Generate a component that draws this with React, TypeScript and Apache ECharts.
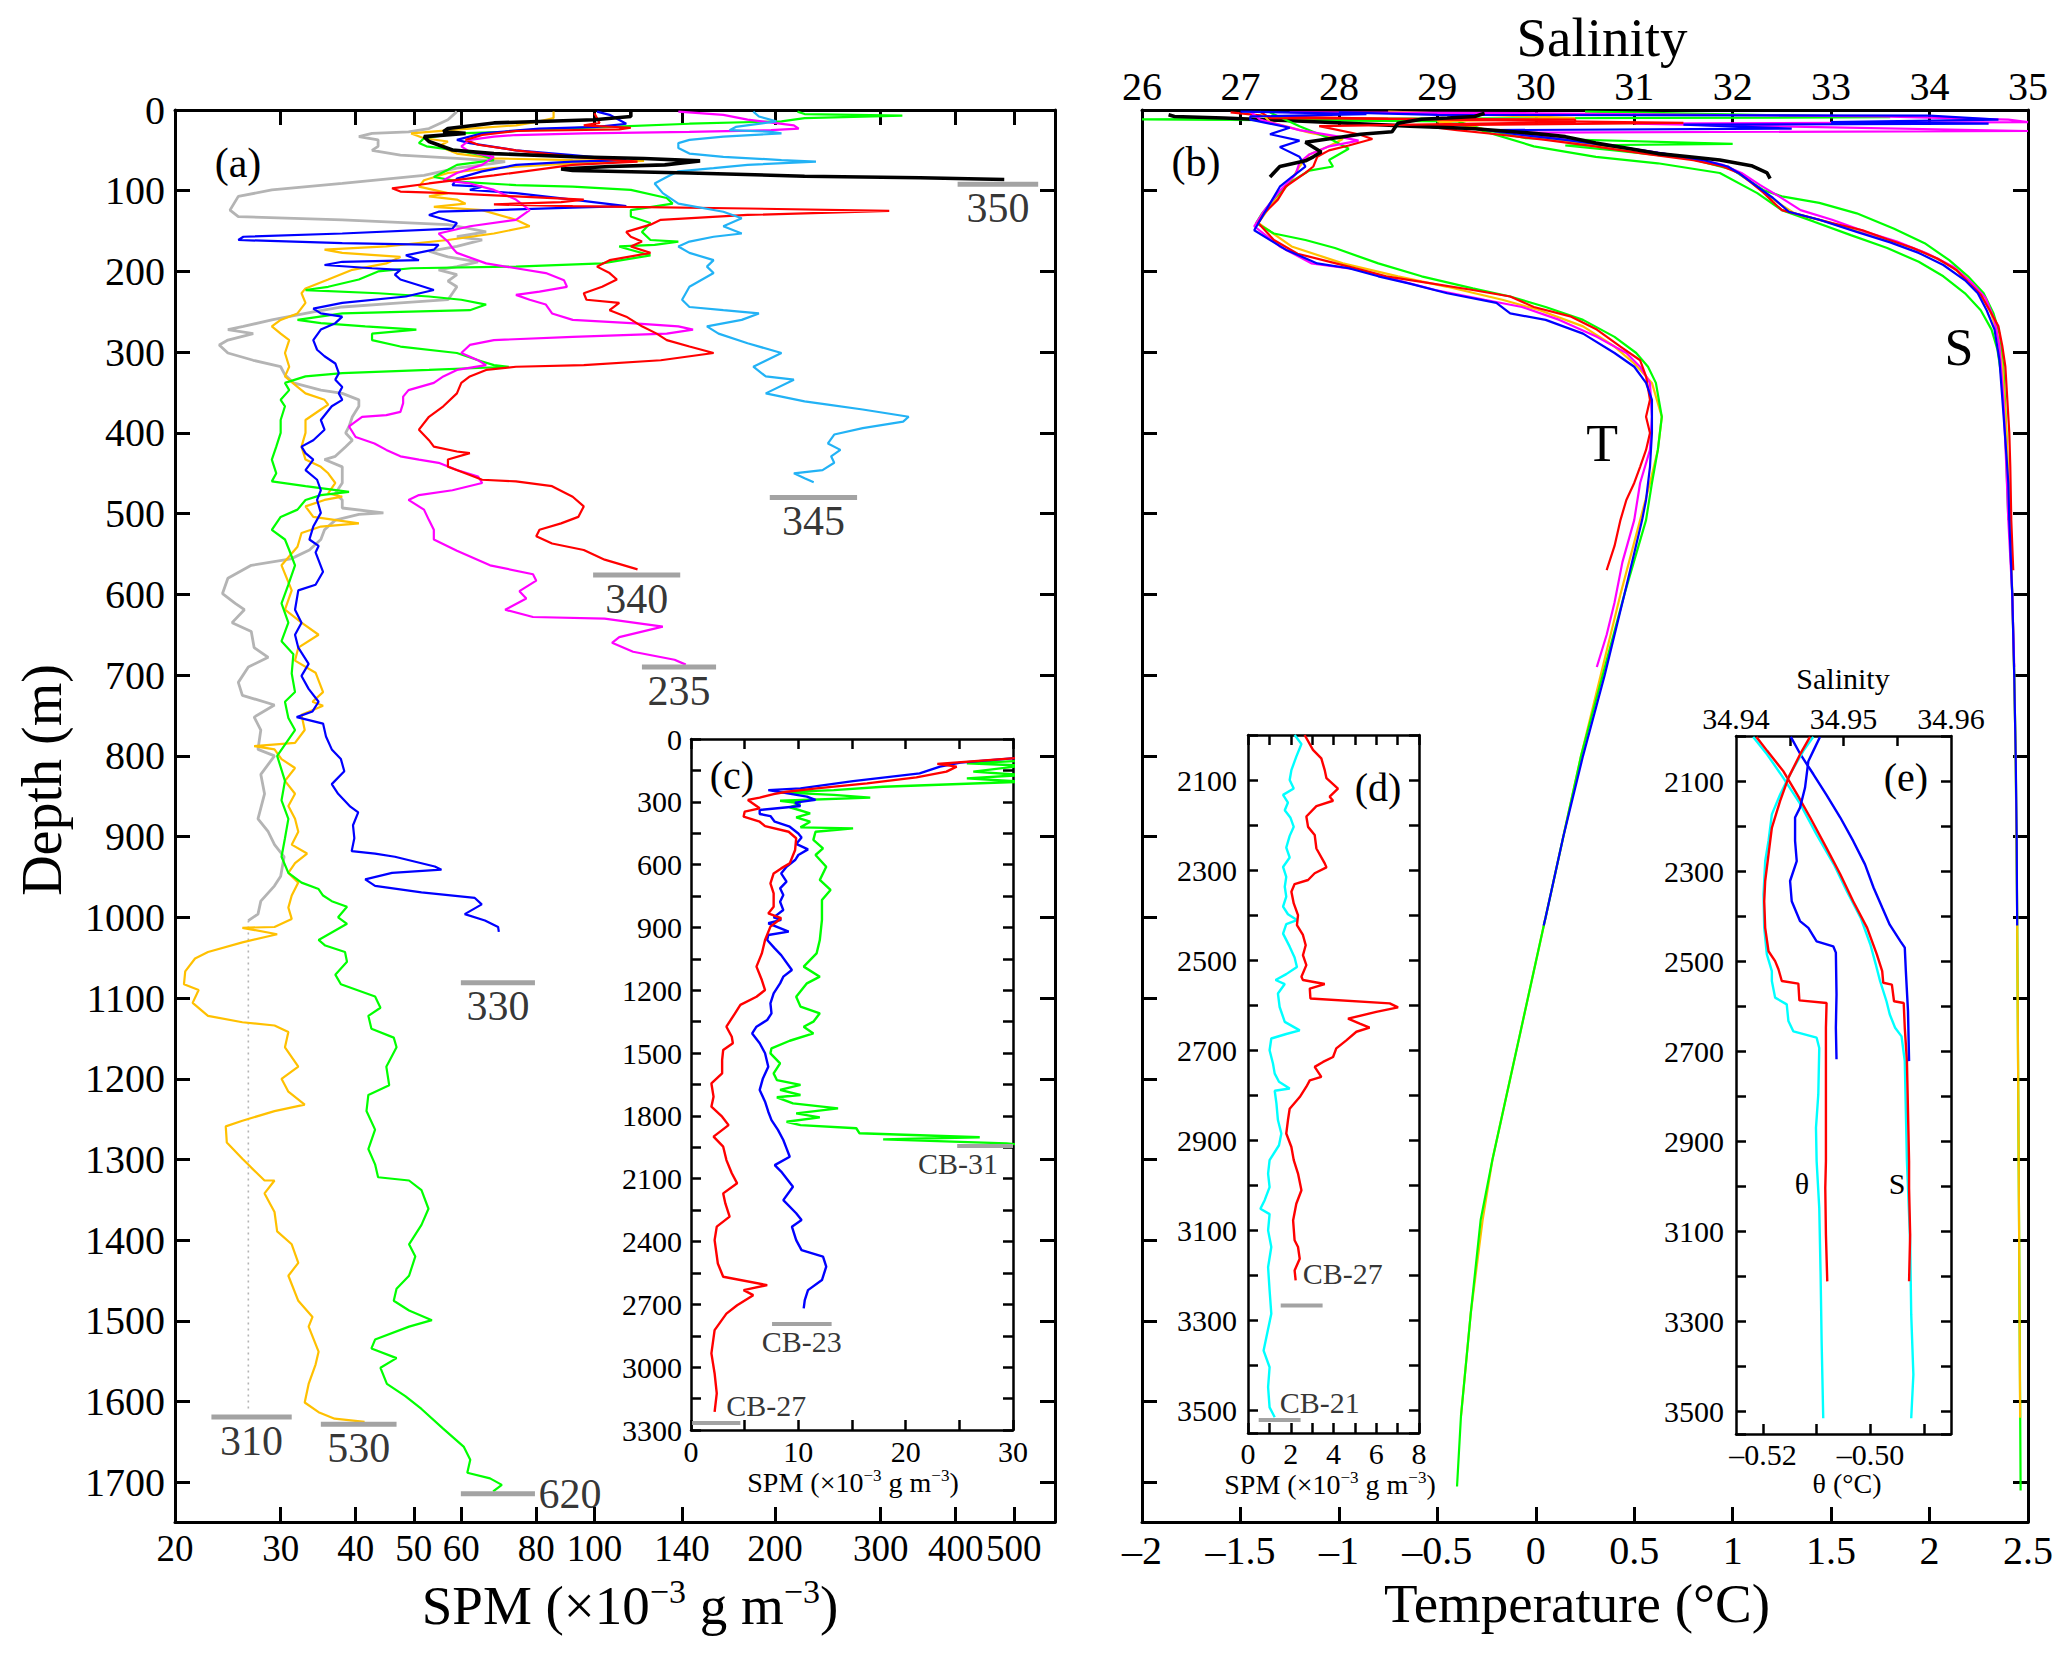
import React, { useEffect, useRef } from 'react';
import * as echarts from 'echarts';

const FONT = '"Liberation Serif", "Times New Roman", Times, serif';

// ---------- (a) SPM profiles: [SPM (x10^-3 g m^-3), depth (m)] ----------
const spmTicks = [20, 30, 40, 50, 60, 80, 100, 140, 200, 300, 400, 500];

const spm350 = [[115, 2], [115, 8], [100, 12], [68, 16], [57, 23], [56, 27], [61, 29], [52, 33], [53, 39], [58, 49.5], [68, 54], [92, 58], [121, 60], [150, 63], [131, 68], [106, 70], [88, 73], [92, 75], [144, 78], [224, 82], [349, 84], [482, 86]];

const spm345 = [[184, 2], [188, 8], [201, 14], [172, 21], [168, 25], [197, 27], [205, 29], [164, 33], [144, 37], [138, 41], [138, 47], [144, 54], [164, 58], [205, 62], [234, 64], [180, 68], [158, 72], [138, 76], [132, 83], [126, 91], [130, 103], [138, 116], [164, 126], [176, 134], [164, 144], [176, 153], [158, 157], [144, 163], [138, 169], [144, 177], [158, 186], [154, 194], [158, 202], [144, 219], [140, 235], [144, 244], [164, 248], [188, 252], [176, 260], [154, 268], [161, 277], [180, 289], [205, 301], [184, 318], [193, 330], [215, 334], [193, 351], [205, 355], [224, 361], [245, 365], [280, 371], [334, 380], [327, 386], [280, 394], [251, 402], [245, 413], [257, 421], [248, 429], [251, 437], [240, 446], [215, 450], [224, 456], [232, 461]];

const spm340 = [[100, 4], [102, 16], [96, 19], [115, 22], [110, 24], [74, 26], [65, 31], [61, 37], [64, 43], [74, 50], [92, 58], [110, 62], [118, 64], [92, 68], [68, 81], [53, 91], [46, 97], [47.5, 101], [57, 103], [74, 107], [96, 111], [88, 114], [68, 117], [92, 119], [113, 120], [180, 122], [310, 125], [180, 130], [129, 136], [124, 142], [113, 151], [115, 157], [120, 163], [115, 169], [124, 177], [106, 186], [101, 194], [106, 202], [109, 210], [103, 219], [96, 227], [97, 235], [110, 239], [106, 248], [113, 256], [120, 268], [127, 277], [132, 285], [144, 293], [158, 301], [129, 310], [96, 316], [74, 318], [66, 322], [62, 330], [60, 338], [59, 351], [56, 367], [53, 380], [51, 396], [53, 409], [54, 417], [59, 423], [62, 425], [57, 433], [57, 442], [62, 452], [65, 458], [74, 460], [85, 466], [92, 479], [96, 491], [94, 504], [88, 512], [81, 520], [80, 528], [85, 537], [96, 545], [104, 557], [118, 569]];

const spm235 = [[138, 2], [164, 6], [180, 12], [215, 19], [219, 23], [197, 25], [144, 27], [96, 29], [74, 31], [68, 33], [62, 37], [60, 45], [62, 52], [68, 58], [65, 68], [59, 78], [56, 87], [62, 91], [68, 99], [74, 111], [78, 124], [74, 136], [62, 144], [55, 153], [57, 163], [58, 171], [59, 177], [66, 190], [74, 196], [83, 202], [89, 211], [90, 219], [81, 225], [74, 229], [78, 235], [83, 241], [85, 252], [92, 260], [115, 264], [138, 268], [146, 272], [132, 277], [92, 281], [68, 285], [62, 291], [60, 301], [64, 310], [66, 316], [59, 322], [56, 330], [54, 338], [49, 347], [48, 355], [48, 363], [47.5, 374], [45, 378], [41, 380], [39, 392], [40, 405], [43, 413], [45, 421], [47.5, 429], [51, 433], [55, 437], [59, 446], [64, 454], [65, 462], [58, 471], [51, 477], [49, 483], [52, 495], [53, 508], [54, 520], [54, 532], [59, 546], [67, 564], [79, 575], [80, 583], [75, 596], [77, 605], [71, 619], [79, 628], [104, 630], [130, 640], [110, 653], [107, 660], [116, 671], [136, 681], [142, 687]];

const spm330 = [[101, 2], [106, 6], [113, 17], [101, 21], [81, 23], [65, 29], [59, 37], [62, 41], [74, 50], [92, 56], [113, 62], [92, 64], [74, 68], [65, 76], [59, 85], [58, 93], [65, 95], [62, 99], [74, 103], [92, 111], [113, 119], [92, 121], [68, 124], [55, 126], [53, 130], [59, 140], [58, 147], [38, 153], [26, 157], [25.5, 161], [38, 165], [55, 167], [54, 173], [48.5, 180], [51, 186], [38, 188], [35.5, 192], [42.6, 196], [47.5, 198], [46.5, 204], [47.5, 210], [51, 217], [54, 223], [48.5, 231], [38, 239], [34, 246], [35, 252], [38, 256], [37, 264], [35, 272], [34, 285], [34.5, 297], [35.5, 305], [37, 314], [37.5, 326], [37, 334], [38, 343], [37.5, 351], [38, 359], [36.5, 367], [35, 384], [35.5, 396], [34, 409], [32.5, 417], [33, 425], [34, 433], [33, 446], [34.5, 458], [35, 471], [34.5, 483], [35, 499], [34, 516], [33.5, 532], [34.7, 540], [34.3, 548], [35.3, 572], [34.3, 588], [32.1, 595], [31.7, 619], [32.5, 635], [31.7, 650], [32.1, 666], [33.4, 686], [32.5, 701], [33.4, 717], [34.7, 733], [33.9, 745], [31.9, 752], [35.3, 760], [35.7, 776], [36.5, 792], [37.8, 804], [38.3, 819], [36.5, 835], [37.4, 847], [39.2, 863], [40.4, 870], [39.6, 886], [39.8, 902], [39.4, 918], [43.1, 921], [46.5, 925], [54.2, 937], [55.6, 941], [46, 945], [41.5, 953], [43.1, 961], [51.5, 969], [63.2, 976], [64.9, 984], [60.8, 996], [65.7, 1004], [69.1, 1012], [69.3, 1018]];

const spm310 = [[59, 2], [57, 12], [53, 23], [49, 27], [42.6, 29], [40.5, 33], [43.6, 37], [43.6, 45], [42.6, 50], [47.5, 56], [59, 60], [71, 64], [68, 66], [59, 72], [52, 81], [38, 91], [29, 99], [25.5, 107], [24.7, 124], [25.5, 132], [38, 136], [57, 142], [62, 147], [66, 151], [59, 157], [65, 161], [59, 169], [53, 175], [57, 182], [64, 188], [59, 194], [55, 198], [59, 204], [57, 212], [59, 219], [58, 227], [57, 235], [47.5, 239], [38, 244], [34, 250], [29, 260], [26, 268], [24.5, 272], [27, 277], [24.5, 285], [23.7, 291], [24.5, 301], [27, 310], [30, 318], [30.5, 328], [31.5, 338], [35, 347], [38, 351], [40.5, 359], [40.5, 367], [39.5, 380], [39, 392], [38.5, 400], [39.5, 409], [38.5, 417], [37, 429], [35.5, 433], [38, 442], [38, 462], [37, 475], [38, 483], [38, 493], [44.5, 499], [40.5, 501], [37, 508], [35.5, 520], [35, 532], [33.5, 545], [31.2, 556], [26.8, 564], [24.5, 580], [24, 599], [25.2, 611], [26.1, 619], [24.9, 635], [26.8, 646], [27.1, 666], [28.6, 678], [26.5, 690], [25.5, 709], [25.9, 725], [29.3, 737], [27.1, 752], [27.8, 768], [27.5, 792], [29.3, 800], [27.8, 823], [28.2, 847], [27.5, 878], [28.6, 894], [29.3, 910], [30.4, 925], [30, 949], [29.3, 961], [27.8, 980], [27.5, 996], [26.5, 1004]];
// gap in the 310 profile, drawn dotted
const spm310Gap = [[26.5, 1004], [26.5, 1613]];

const spm530 = [[85.5, 2], [85.5, 10], [81, 14], [74, 19], [62, 23], [53, 27], [49.5, 29], [52, 35], [57, 39], [55, 45], [59, 54], [68, 60], [92, 62], [121, 63], [92, 66], [68, 72], [57, 78], [52, 87], [51, 95], [57, 103], [53, 107], [59, 111], [61, 116], [54, 120], [65, 124], [74, 136], [78, 144], [68, 153], [57, 161], [45, 169], [35.5, 173], [38, 177], [47.5, 182], [45, 190], [39.5, 198], [36, 210], [33, 221], [32.5, 227], [33, 239], [32, 252], [30, 260], [29, 268], [30, 277], [31, 285], [30.5, 301], [31, 318], [30.5, 330], [32, 343], [33, 351], [35.5, 359], [36, 365], [35, 371], [33, 384], [33, 400], [32.5, 417], [33, 433], [35, 442], [36, 450], [37, 462], [36, 475], [38, 479], [35.5, 483], [33, 491], [34, 504], [40.5, 512], [35, 516], [32.5, 524], [32, 541], [30.1, 564], [31.3, 595], [30.5, 619], [32.5, 635], [34.7, 650], [32.1, 666], [31.7, 682], [34.3, 697], [35.3, 721], [33.9, 733], [35.3, 738], [32.5, 749], [32.9, 768], [31.7, 784], [27.1, 788], [29.3, 792], [30.1, 804], [31.7, 815], [30.5, 831], [31.7, 847], [30.9, 862], [31.7, 878], [32.1, 894], [31.3, 910], [33.2, 921], [31.7, 933], [30.9, 945], [32.1, 957], [31.3, 973], [30.9, 988], [31.3, 1002], [29.3, 1012], [25.9, 1013], [29.6, 1021], [25.9, 1031], [22.7, 1043], [21.6, 1051], [20.8, 1067], [20.7, 1083], [21.9, 1090], [21.4, 1106], [22.7, 1122], [25.9, 1130], [29.3, 1134], [30.9, 1142], [30.5, 1161], [32.1, 1185], [30.1, 1200], [30.9, 1216], [32.9, 1232], [29.3, 1240], [25.9, 1252], [24.3, 1259], [24.4, 1279], [25.9, 1299], [26.8, 1310], [28.2, 1326], [29.3, 1326], [28.2, 1342], [29.3, 1365], [29.6, 1389], [31.3, 1405], [32.1, 1428], [30.9, 1444], [32.1, 1475], [33.9, 1495], [33.4, 1507], [34.7, 1538], [34.3, 1554], [33.4, 1578], [32.9, 1601], [34.7, 1613], [36.9, 1621], [41.4, 1625]];

const spm620 = [[218, 2], [224, 5], [326, 7], [224, 10], [205, 14], [144, 17], [106, 21], [81, 24], [71, 27], [59, 29], [52, 35], [51, 41], [52.5, 45], [59, 50], [65, 56], [68, 62], [59, 68], [57, 74], [54, 83], [60, 89], [74, 93], [92, 95], [115, 99], [132, 109], [135, 116], [115, 124], [115, 132], [124, 140], [120, 151], [124, 161], [138, 163], [126, 167], [110, 169], [112, 171], [124, 180], [115, 184], [103, 190], [74, 194], [49.5, 196], [43.6, 200], [40.5, 210], [36, 219], [33, 223], [43.6, 227], [53, 231], [60, 235], [66, 241], [62, 248], [47.5, 250], [38, 252], [32, 260], [35, 264], [41.5, 268], [50.5, 272], [42.6, 277], [42.6, 285], [47.5, 293], [59, 301], [64, 310], [68, 316], [72, 318], [53, 322], [38, 326], [33, 330], [30.5, 338], [31, 347], [30, 359], [30.5, 367], [30, 384], [30, 400], [29.5, 417], [29, 433], [29.5, 450], [29, 460], [33, 466], [39, 473], [35, 477], [33, 483], [32, 495], [30, 504], [29, 520], [30.5, 532], [31, 545], [31.7, 564], [30.9, 588], [30.1, 611], [30.9, 635], [30.1, 658], [31.5, 674], [31.3, 698], [31.7, 721], [30.5, 733], [30.9, 753], [31.7, 768], [29.6, 800], [30.5, 831], [30.1, 855], [30.9, 878], [30.5, 902], [30.1, 925], [30.9, 945], [32.5, 957], [34.7, 965], [35.3, 973], [36.5, 980], [38.7, 987], [37.4, 1000], [38.7, 1008], [34.7, 1028], [35.6, 1035], [38.4, 1043], [38.7, 1055], [37, 1071], [37.8, 1083], [43.1, 1098], [44, 1112], [42, 1122], [42.5, 1138], [46.3, 1149], [46.8, 1161], [45, 1185], [45.5, 1208], [42, 1220], [41.7, 1240], [43.1, 1263], [42, 1287], [43.1, 1306], [43.6, 1322], [49.1, 1326], [51.5, 1338], [52.9, 1361], [51.5, 1381], [49.1, 1405], [50.3, 1420], [49.1, 1444], [46.8, 1460], [46.3, 1475], [49.1, 1487], [53.6, 1499], [49.1, 1507], [43.1, 1523], [42.5, 1534], [46.8, 1546], [44, 1558], [45.1, 1578], [48.4, 1593], [51.5, 1609], [55.9, 1633], [60.6, 1656], [62.1, 1672], [61.4, 1688], [67, 1695], [70.1, 1703], [67.8, 1711]];

// bottom depth marks: station, SPM range, depth
const bottomsA = [
  { name: '350', x0: 403, x1: 549, depth: 92 },
  { name: '345', x0: 196, x1: 274, depth: 480 },
  { name: '340', x0: 99.5, x1: 139, depth: 576 },
  { name: '235', x0: 120, x1: 159.5, depth: 690 },
  { name: '330', x0: 59.9, x1: 79.6, depth: 1081 },
  { name: '310', x0: 23.0, x1: 31.3, depth: 1619 },
  { name: '530', x0: 35.0, x1: 46.8, depth: 1628 },
  { name: '620', x0: 59.9, x1: 79.6, depth: 1714 },
];

// ---------- (b) temperature [T (°C), depth] and salinity [S, depth] ----------
const tRed = [[-1.4, 2], [-1.35, 10], [0.2, 12], [0.2, 15], [-1.1, 20], [-0.9, 30], [-0.83, 36], [-0.95, 44], [-1.05, 50], [-1.11, 58], [-1.13, 70], [-1.17, 78], [-1.27, 95], [-1.31, 111], [-1.38, 128], [-1.41, 140], [-1.33, 161], [-1.21, 178], [-0.95, 194], [-0.76, 206], [-0.58, 213], [-0.32, 223], [-0.13, 231], [-0.01, 244], [0.18, 256], [0.31, 272], [0.43, 293], [0.53, 310], [0.56, 330], [0.58, 359], [0.56, 380], [0.58, 400], [0.56, 421], [0.53, 442], [0.5, 462], [0.46, 483], [0.43, 508], [0.4, 540], [0.36, 570]];
const tBlue = [[-1.5, 2], [-0.86, 5], [-1.45, 8], [-1.45, 12], [-1.25, 22], [-1.35, 30], [-1.2, 38], [-1.3, 46], [-1.2, 58], [-1.17, 70], [-1.24, 83], [-1.3, 95], [-1.36, 120], [-1.43, 149], [-1.27, 173], [-1.11, 190], [-0.95, 196], [-0.8, 206], [-0.64, 215], [-0.45, 227], [-0.2, 239], [-0.13, 252], [0.05, 260], [0.24, 277], [0.4, 301], [0.5, 318], [0.56, 338], [0.59, 359], [0.59, 400], [0.58, 442], [0.56, 483], [0.54, 508], [0.45, 600], [0.35, 700], [0.24, 800], [0.14, 900], [0.05, 1000], [0.04, 1010]];
const tMagenta = [[-1.45, 2], [-1.4, 12], [-1.2, 25], [-1.0, 33], [-0.9, 38], [-1.05, 45], [-1.15, 55], [-1.2, 65], [-1.22, 80], [-1.3, 100], [-1.38, 125], [-1.43, 144], [-1.3, 169], [-1.14, 190], [-0.89, 198], [-0.7, 211], [-0.51, 223], [-0.26, 235], [-0.07, 244], [0.12, 260], [0.31, 281], [0.46, 301], [0.53, 318], [0.58, 338], [0.59, 380], [0.58, 421], [0.53, 462], [0.5, 508], [0.44, 560], [0.4, 610], [0.36, 650], [0.31, 690]];
const tGold = [[-1.4, 2], [-1.35, 15], [-1.15, 28], [-0.98, 36], [-1.05, 45], [-1.15, 55], [-1.2, 70], [-1.25, 90], [-1.35, 120], [-1.41, 140], [-1.24, 169], [-0.98, 190], [-0.7, 206], [-0.45, 219], [-0.17, 235], [0.02, 248], [0.24, 268], [0.4, 293], [0.5, 314], [0.59, 338], [0.64, 380], [0.62, 421], [0.58, 462], [0.53, 508], [0.43, 600], [0.33, 700], [0.23, 800], [0.14, 900], [0.05, 1000], [-0.04, 1100], [-0.13, 1200], [-0.22, 1300], [-0.27, 1375], [-0.33, 1490], [-0.38, 1618]];
const tGreen = [[-1.35, 3], [-1.2, 20], [-1.05, 35], [-0.95, 48], [-1.05, 62], [-1.03, 70], [-1.15, 75], [-1.25, 90], [-1.33, 110], [-1.39, 128], [-1.42, 140], [-1.33, 153], [-1.17, 161], [-1.02, 171], [-0.8, 190], [-0.58, 206], [-0.32, 221], [-0.13, 231], [0.05, 244], [0.24, 260], [0.4, 281], [0.51, 301], [0.57, 318], [0.61, 338], [0.64, 380], [0.62, 421], [0.59, 462], [0.56, 508], [0.45, 600], [0.34, 700], [0.23, 800], [0.14, 900], [0.05, 1000], [-0.04, 1100], [-0.13, 1200], [-0.22, 1300], [-0.28, 1375], [-0.33, 1490], [-0.38, 1618], [-0.4, 1705]];
const tBlack = [[-0.26, 4], [-0.31, 8], [-0.45, 10], [-0.58, 11.5], [-0.7, 16.5], [-0.73, 27], [-0.89, 30], [-1.17, 40], [-1.09, 52], [-1.13, 58], [-1.17, 63], [-1.3, 70], [-1.35, 83]];

const sRed = [[26.9, 3], [27.3, 8], [28.5, 11], [31.5, 16], [28.8, 19], [29.2, 25], [29.6, 30], [30.1, 37], [30.6, 45], [31.1, 54], [31.6, 62], [31.9, 70], [32.06, 78], [32.19, 90], [32.31, 102], [32.41, 114], [32.5, 124], [32.69, 130], [33.01, 140], [33.32, 149], [33.57, 160], [33.83, 171], [34.08, 184], [34.27, 198], [34.39, 213], [34.52, 229], [34.61, 248], [34.7, 268], [34.74, 293], [34.77, 318], [34.79, 359], [34.81, 400], [34.82, 442], [34.83, 508], [34.85, 570]];
const sBlue = [[28.0, 3], [29.0, 6], [34.0, 7], [34.7, 12], [33.0, 15], [34.6, 17], [31.5, 18], [32.6, 23], [29.5, 25], [29.8, 30], [30.3, 37], [30.8, 45], [31.3, 54], [31.7, 62], [31.95, 70], [32.06, 78], [32.25, 95], [32.41, 109], [32.57, 126], [32.88, 136], [33.26, 151], [33.6, 164], [33.89, 177], [34.14, 192], [34.36, 211], [34.49, 227], [34.58, 248], [34.66, 272], [34.71, 310], [34.74, 359], [34.77, 409], [34.8, 462], [34.81, 508], [34.84, 600], [34.86, 700], [34.875, 800], [34.885, 900], [34.89, 1010]];
const sMagenta = [[27.5, 3], [30.0, 4], [33.5, 8], [34.8, 12], [35.0, 15], [31.0, 17], [35.0, 26], [29.8, 28], [30.2, 35], [30.7, 43], [31.2, 52], [31.6, 60], [31.9, 68], [32.09, 78], [32.28, 93], [32.47, 107], [32.69, 124], [33.01, 136], [33.35, 151], [33.67, 163], [33.98, 178], [34.24, 194], [34.42, 213], [34.57, 233], [34.66, 260], [34.71, 293], [34.75, 359], [34.78, 442], [34.8, 508], [34.84, 600], [34.86, 690]];
const sGold = [[28.5, 2], [29.5, 6], [30.4, 10], [29.0, 14], [29.4, 22], [29.8, 30], [30.3, 38], [30.8, 46], [31.3, 55], [31.7, 63], [31.95, 70], [32.06, 78], [32.24, 95], [32.41, 111], [32.63, 128], [32.94, 138], [33.29, 151], [33.64, 163], [33.92, 175], [34.17, 190], [34.38, 208], [34.52, 227], [34.62, 250], [34.69, 277], [34.74, 318], [34.78, 400], [34.82, 508], [34.84, 600], [34.86, 700], [34.875, 800], [34.89, 1000], [34.9, 1200], [34.91, 1400], [34.92, 1620]];
const sGreen = [[30.5, 2], [33.6, 9], [26.0, 11.5], [29.2, 14], [29.5, 25], [29.9, 35], [32.0, 42], [30.3, 44], [30.8, 50], [31.56, 60], [32.0, 74], [32.31, 99], [32.5, 107], [32.88, 115], [33.26, 128], [33.64, 147], [33.95, 165], [34.2, 186], [34.39, 206], [34.55, 227], [34.65, 252], [34.71, 277], [34.75, 318], [34.78, 400], [34.81, 508], [34.84, 600], [34.86, 700], [34.875, 800], [34.89, 1000], [34.9, 1200], [34.91, 1400], [34.92, 1600], [34.925, 1710]];
const sGreen2 = [[29.3, 20], [29.98, 45], [30.61, 58], [31.24, 66], [31.87, 78], [32.25, 103], [32.5, 124], [32.82, 138], [33.2, 155], [33.57, 171], [33.89, 188], [34.14, 206], [34.36, 227], [34.52, 248], [34.63, 272], [34.69, 297], [34.74, 338], [34.77, 400], [34.8, 508]];
const sBlack = [[26.27, 6], [26.33, 8], [26.83, 10], [27.46, 13], [28.09, 16.5], [28.72, 20], [29.35, 23], [29.98, 29], [30.3, 33], [30.61, 41], [30.93, 47.5], [31.24, 54], [31.56, 58], [31.87, 62], [32.19, 69], [32.35, 78], [32.38, 85]];

// ---------- (c) deep SPM [SPM, depth] ----------
const cb27 = [[31, 88], [22.95, 119], [24.75, 132], [23.8, 156], [21, 183], [16.4, 212], [11.7, 236], [8.9, 252], [7.7, 263], [6.4, 280], [5.3, 291], [6.4, 331], [5, 347], [4.9, 371], [6.4, 395], [6.9, 416], [9.1, 443], [9.8, 474], [9.7, 530], [9.2, 594], [8.4, 618], [7.7, 642], [7.4, 689], [7.7, 737], [7.7, 801], [7.2, 833], [8.4, 856], [7.4, 896], [6.9, 960], [6.6, 1024], [6.1, 1087], [6.6, 1151], [6.9, 1199], [6.1, 1231], [4.6, 1270], [4.1, 1310], [3.3, 1374], [3.8, 1422], [3.9, 1453], [3, 1485], [2.9, 1533], [2.9, 1597], [1.9, 1645], [2.1, 1708], [1.9, 1756], [2.9, 1804], [3.5, 1844], [2.1, 1899], [3, 1947], [3.3, 2011], [3.8, 2074], [4.3, 2122], [3, 2170], [3.2, 2218], [3.6, 2281], [2.4, 2329], [2.2, 2393], [2.5, 2505], [3, 2568], [7.1, 2608], [4.9, 2632], [5.8, 2656], [4.3, 2704], [3.3, 2744], [2.2, 2823], [1.9, 2934], [2.2, 3030], [2.4, 3125], [2.2, 3213]];
const cb23 = [[31, 88], [25.1, 113], [23.2, 132], [21.3, 164], [15.1, 201], [10.2, 236], [7.2, 244], [10.8, 275], [11.6, 291], [9.7, 304], [10.2, 320], [6.4, 339], [6.4, 358], [7.4, 368], [7.8, 395], [9.2, 419], [10, 451], [10.3, 470], [9.8, 501], [10.9, 527], [10, 554], [9.7, 578], [8.9, 610], [8.4, 642], [8.9, 681], [8.3, 713], [8.6, 745], [8.3, 777], [8.6, 817], [7.7, 852], [8.4, 864], [7.2, 880], [9.1, 920], [7.2, 936], [7.1, 960], [7.8, 1000], [8.4, 1032], [9.4, 1103], [8.6, 1135], [8.3, 1167], [7.7, 1215], [7.4, 1262], [7.5, 1310], [7.1, 1342], [6.1, 1374], [5.7, 1406], [6.4, 1453], [6.9, 1501], [7.2, 1565], [6.7, 1621], [6.4, 1676], [6.9, 1732], [7.2, 1780], [7.5, 1820], [8.1, 1867], [8.6, 1915], [8.9, 1955], [9.2, 1995], [7.8, 2035], [8.4, 2066], [9.5, 2138], [8.6, 2202], [9.8, 2265], [10.3, 2297], [9.4, 2329], [9.8, 2393], [10.3, 2441], [12.3, 2472], [12.6, 2520], [12.2, 2584], [10.9, 2632], [10.6, 2680], [10.5, 2719]];
const cb31 = [[31, 104], [25.7, 116], [31, 127], [26.3, 156], [31, 172], [25.7, 188], [31, 204], [17.9, 228], [13.3, 244], [8.3, 255], [13.3, 267], [16.7, 280], [8.3, 295], [10.2, 307], [9.2, 326], [11.1, 355], [9.8, 374], [11.1, 395], [10.2, 422], [15.1, 427], [11.6, 443], [11.4, 482], [12.3, 522], [11.6, 554], [12.6, 610], [12, 673], [13, 721], [12.2, 769], [12.2, 864], [12, 960], [11.7, 1024], [10.5, 1087], [12, 1135], [10.8, 1167], [9.8, 1231], [10.2, 1278], [12, 1310], [11.4, 1350], [10.5, 1374], [11.4, 1406], [9.2, 1441], [7.5, 1477], [7.4, 1501], [8.3, 1549], [7.7, 1597], [8, 1629], [10.2, 1652], [8.3, 1676], [10.2, 1700], [8, 1711], [9.5, 1740], [13.7, 1764], [9.8, 1788], [12, 1807], [8.9, 1828], [10.2, 1844], [15.4, 1859], [15.7, 1883], [26.9, 1902], [17.9, 1912], [29.4, 1931], [31, 1939]];
const bottomsC = [
  { name: 'CB-31', x0: 24.8, x1: 30, depth: 1944 },
  { name: 'CB-23', x0: 7.55, x1: 13.1, depth: 2794 },
  { name: 'CB-27', x0: 0.1, x1: 4.6, depth: 3267 },
];

// ---------- (d) near-bottom SPM [SPM, depth] ----------
const dCb27 = [[2.65, 2000], [3.04, 2033], [3.43, 2052], [3.59, 2078], [3.67, 2096], [4.21, 2119], [3.82, 2137], [3.98, 2146], [3.2, 2158], [2.73, 2181], [2.81, 2204], [3.12, 2222], [3.2, 2252], [3.59, 2285], [3.67, 2294], [3.12, 2307], [2.81, 2322], [2.18, 2331], [2.03, 2348], [2.14, 2374], [2.34, 2400], [2.29, 2422], [2.57, 2444], [2.7, 2467], [2.57, 2489], [2.73, 2511], [2.5, 2537], [2.57, 2544], [3.59, 2553], [2.89, 2563], [2.92, 2585], [6.63, 2596], [7.02, 2605], [6, 2615], [4.68, 2630], [5.23, 2641], [5.69, 2650], [5.07, 2659], [4.6, 2678], [4.13, 2696], [3.98, 2715], [3.51, 2726], [3.12, 2737], [3.43, 2759], [2.89, 2767], [2.73, 2781], [2.42, 2804], [1.95, 2830], [1.87, 2855], [1.79, 2885], [2.03, 2915], [2.14, 2944], [2.34, 2974], [2.5, 3011], [2.26, 3041], [2.11, 3078], [2.18, 3122], [2.34, 3137], [2.42, 3163], [2.18, 3189], [2.23, 3211]];
const dCb21 = [[2.18, 2000], [2.5, 2020], [2.26, 2048], [2.03, 2078], [1.95, 2100], [2.14, 2119], [1.64, 2133], [1.87, 2150], [1.72, 2167], [1.98, 2183], [2.14, 2204], [1.95, 2224], [1.79, 2250], [1.95, 2272], [1.64, 2293], [1.79, 2315], [1.72, 2337], [1.79, 2359], [1.64, 2381], [1.87, 2398], [2.29, 2411], [1.79, 2420], [1.64, 2441], [1.95, 2470], [2.18, 2494], [2.29, 2515], [1.79, 2531], [1.29, 2544], [1.72, 2553], [1.4, 2574], [1.48, 2604], [1.72, 2637], [2.42, 2656], [1.79, 2664], [1.09, 2674], [1.01, 2700], [1.17, 2730], [1.25, 2752], [1.45, 2770], [1.95, 2785], [1.25, 2790], [1.33, 2818], [1.4, 2855], [1.56, 2885], [1.45, 2911], [1.01, 2944], [0.94, 2974], [1.01, 3004], [0.78, 3033], [0.58, 3052], [1.01, 3064], [0.94, 3100], [1.09, 3137], [0.94, 3182], [1.01, 3233], [1.09, 3285], [0.73, 3367], [1.01, 3404], [0.94, 3448], [1.01, 3493], [1.25, 3515]];
const bottomsD = [
  { name: 'CB-27', x0: 1.53, x1: 3.49, depth: 3267 },
  { name: 'CB-21', x0: 0.5, x1: 2.46, depth: 3521 },
];

// ---------- (e) deep θ [θ (°C), depth] and S [S, depth] ----------
const eSRed = [[34.9419, 2002], [34.9429, 2033], [34.9444, 2078], [34.9457, 2130], [34.9469, 2181], [34.9484, 2248], [34.9497, 2307], [34.9509, 2367], [34.9522, 2426], [34.9531, 2485], [34.9536, 2522], [34.9537, 2548], [34.9545, 2552], [34.9547, 2589], [34.9556, 2593], [34.9557, 2648], [34.9559, 2722], [34.9561, 2944], [34.9561, 3004], [34.9562, 3107], [34.9561, 3211]];
const eSCyan = [[34.9416, 2002], [34.9429, 2041], [34.9444, 2093], [34.946, 2152], [34.9475, 2219], [34.9491, 2285], [34.9503, 2344], [34.9516, 2404], [34.9525, 2463], [34.953, 2507], [34.9534, 2544], [34.954, 2589], [34.9543, 2618], [34.9548, 2648], [34.9554, 2667], [34.9557, 2722], [34.9559, 2944], [34.9562, 3122], [34.9563, 3285], [34.9565, 3418], [34.9563, 3515]];
const eSBlue = [[34.9451, 2002], [34.946, 2041], [34.9472, 2085], [34.9484, 2130], [34.9497, 2181], [34.9509, 2233], [34.952, 2285], [34.9528, 2337], [34.9536, 2381], [34.9543, 2419], [34.9553, 2456], [34.9557, 2470], [34.9558, 2522], [34.956, 2611], [34.9561, 2722]];
const eTRed = [[-0.51123, 2002], [-0.51309, 2041], [-0.51525, 2093], [-0.51679, 2144], [-0.51833, 2204], [-0.51895, 2263], [-0.51957, 2322], [-0.51975, 2367], [-0.51957, 2426], [-0.51895, 2478], [-0.51772, 2500], [-0.5171, 2518], [-0.51648, 2544], [-0.5134, 2550], [-0.51321, 2587], [-0.50815, 2593], [-0.50827, 2648], [-0.50827, 2944], [-0.50839, 3004], [-0.50827, 3107], [-0.50802, 3211]];
const eTCyan = [[-0.51062, 2002], [-0.51247, 2033], [-0.51494, 2085], [-0.51679, 2130], [-0.51833, 2174], [-0.51895, 2233], [-0.51957, 2278], [-0.51988, 2352], [-0.51975, 2426], [-0.51926, 2485], [-0.51833, 2522], [-0.51833, 2544], [-0.51772, 2581], [-0.51556, 2596], [-0.51525, 2633], [-0.51432, 2656], [-0.51, 2670], [-0.50951, 2693], [-0.50969, 2796], [-0.51012, 2870], [-0.51, 2944], [-0.50951, 3048], [-0.50926, 3196], [-0.50907, 3344], [-0.50877, 3515]];
const eTBlue = [[-0.50938, 2002], [-0.51062, 2033], [-0.51154, 2056], [-0.51216, 2115], [-0.51309, 2159], [-0.51401, 2181], [-0.51401, 2233], [-0.5137, 2278], [-0.51494, 2322], [-0.51463, 2367], [-0.51309, 2411], [-0.51154, 2426], [-0.51, 2456], [-0.50691, 2467], [-0.50642, 2481], [-0.5063, 2574], [-0.50642, 2648], [-0.5063, 2718]];

const COL = {
  red: '#ff0000', blue: '#0000ff', magenta: '#ff00ff', green: '#00ff00', sky: '#22b2f5',
  aqua: '#00ffff', gold: '#ffc000', gray: '#b4b4b4', black: '#000000', bar: '#a3a3a3',
};

const dash = (v: number, digits?: number) => {
  const s = digits === undefined ? String(Math.abs(Math.round(v * 1000) / 1000)) : Math.abs(v).toFixed(digits);
  return v < -1e-9 ? '\u2013' + s : s;
};

function axis(o: any) {
  const lw = o.inset ? 2.5 : 3;
  const a: any = {
    type: o.type || 'value',
    gridIndex: o.grid,
    position: o.pos,
    min: o.min,
    max: o.max,
    inverse: !!o.inverse,
    axisLine: { show: true, onZero: false, lineStyle: { color: '#000', width: lw } },
    axisTick: { show: true, inside: true, length: o.inset ? 10 : 15, lineStyle: { color: '#000', width: lw } },
    axisLabel: {
      show: o.labels !== null,
      color: '#000',
      fontFamily: FONT,
      fontSize: o.fs || (o.inset ? 30 : 40),
      margin: o.margin ?? 8,
      formatter: o.fmt,
      hideOverlap: false,
      showMinLabel: true,
      showMaxLabel: true,
    },
    splitLine: { show: false },
    minorTick: { show: false },
  };
  if (o.interval) a.interval = o.interval;
  if (a.type === 'log') a.logBase = 10;
  if (o.ticks) a.axisTick.customValues = o.ticks;
  if (o.labels) a.axisLabel.customValues = o.labels;
  return a;
}

function line(data: number[][], xi: number, yi: number, color: string, width = 2.2, extra: any = {}) {
  return {
    type: 'line', xAxisIndex: xi, yAxisIndex: yi, data, symbol: 'none', showSymbol: false,
    lineStyle: { color, width }, silent: true, clip: true, z: 3, ...extra,
  };
}

function bottomMarks(list: any[], xi: number, yi: number, fontSize: number, layout: any, geo: boolean) {
  const out: any[] = [];
  list.forEach((b) => {
    out.push(line([[b.x0, b.depth], [b.x1, b.depth]], xi, yi, COL.bar, fontSize > 35 ? 5 : 4, { z: 4 }));
    const lay = layout[b.name] || {};
    const cx = lay.anchor === 'end' ? b.x1 : geo ? Math.sqrt(b.x0 * b.x1) : (b.x0 + b.x1) / 2;
    out.push({
      type: 'scatter', xAxisIndex: xi, yAxisIndex: yi, silent: true, z: 5,
      symbolSize: 1, itemStyle: { color: 'rgba(0,0,0,0)' },
      data: [[cx, b.depth, b.name]],
      label: {
        show: true, formatter: (p: any) => p.value[2], color: '#000', fontFamily: FONT, fontSize,
        position: lay.pos || 'bottom', distance: lay.dist ?? 2, offset: lay.off || [0, 0],
      },
    });
  });
  return out;
}

function txt(text: string, x: number, y: number, fontSize: number, extra: any = {}) {
  return {
    type: 'text', x, y, z: 50, silent: true, ...extra,
    style: { text, fontFamily: FONT, fontSize, fill: '#000', align: 'center', verticalAlign: 'middle', ...(extra.style || {}) },
  };
}

function spmTitle(x: number, y: number, fs: number) {
  const sup = Math.round(fs * 0.62);
  return txt('{n|SPM (×10}{s|\u22123}{n| g m}{s|\u22123}{n|)}', x, y, fs, {
    style: {
      rich: {
        n: { fontFamily: FONT, fontSize: fs, lineHeight: Math.round(fs * 1.1), fill: '#000' },
        s: { fontFamily: FONT, fontSize: sup, lineHeight: Math.round(fs * 0.6), verticalAlign: 'top', fill: '#000' },
      },
    },
  });
}

function buildOption(): any {
  const depthFmt = (v: number) => (v % 100 === 0 ? String(v) : '');
  const spmMax = 585.6;
  // an empty label at the axis end keeps the 400 and 500 labels both visible
  const spmLabels = [...spmTicks, spmMax];
  const xAxis = [
    axis({ grid: 0, pos: 'bottom', type: 'log', min: 20, max: spmMax, ticks: spmTicks, labels: spmLabels, fs: 37, fmt: (v: number) => (v > 550 ? '' : String(Math.round(v))) }),
    axis({ grid: 0, pos: 'top', type: 'log', min: 20, max: spmMax, ticks: spmTicks, labels: null }),
    axis({ grid: 1, pos: 'bottom', min: -2, max: 2.5, interval: 0.5, fmt: (v: number) => dash(v), margin: 8 }),
    axis({ grid: 1, pos: 'top', min: 26, max: 35, interval: 1, fmt: (v: number) => String(v), margin: 4 }),
    axis({ grid: 2, pos: 'bottom', min: 0, max: 30, interval: 5, inset: true, fmt: (v: number) => (v % 10 === 0 ? String(v) : ''), margin: 6 }),
    axis({ grid: 2, pos: 'top', min: 0, max: 30, interval: 5, inset: true, labels: null }),
    axis({ grid: 3, pos: 'bottom', min: 0, max: 8, interval: 1, inset: true, fmt: (v: number) => (v % 2 === 0 ? String(v) : ''), margin: 5 }),
    axis({ grid: 3, pos: 'top', min: 0, max: 8, interval: 1, inset: true, labels: null }),
    axis({ grid: 4, pos: 'bottom', min: -0.525, max: -0.485, inset: true, ticks: [-0.52, -0.51, -0.5, -0.49], labels: [-0.52, -0.5], fmt: (v: number) => dash(v, 2), margin: 5 }),
    axis({ grid: 4, pos: 'top', min: 34.94, max: 34.96, inset: true, ticks: [34.945, 34.95, 34.955], labels: [34.94, 34.95, 34.96], fmt: (v: number) => v.toFixed(2), margin: 3 }),
  ];
  const yAxis = [
    axis({ grid: 0, pos: 'left', min: 0, max: 1749, interval: 100, inverse: true, fmt: depthFmt, margin: 10 }),
    axis({ grid: 0, pos: 'right', min: 0, max: 1749, interval: 100, inverse: true, labels: null }),
    axis({ grid: 1, pos: 'left', min: 0, max: 1749, interval: 100, inverse: true, labels: null }),
    axis({ grid: 1, pos: 'right', min: 0, max: 1749, interval: 100, inverse: true, labels: null }),
    axis({ grid: 2, pos: 'left', min: 0, max: 3300, interval: 150, inverse: true, inset: true, fmt: (v: number) => (v % 300 === 0 ? String(v) : ''), margin: 9 }),
    axis({ grid: 2, pos: 'right', min: 0, max: 3300, interval: 150, inverse: true, inset: true, labels: null }),
    axis({ grid: 3, pos: 'left', min: 2000, max: 3550, interval: 100, inverse: true, inset: true, fmt: (v: number) => (v % 200 === 100 ? String(v) : ''), margin: 11 }),
    axis({ grid: 3, pos: 'right', min: 2000, max: 3550, interval: 100, inverse: true, inset: true, labels: null }),
    axis({ grid: 4, pos: 'left', min: 2000, max: 3550, interval: 100, inverse: true, inset: true, fmt: (v: number) => (v % 200 === 100 ? String(v) : ''), margin: 12 }),
    axis({ grid: 4, pos: 'right', min: 2000, max: 3550, interval: 100, inverse: true, inset: true, labels: null }),
  ];

  const series: any[] = [
    // (a)
    line(spm310, 0, 0, COL.gray, 2.8),
    line(spm310Gap, 0, 0, COL.gray, 1.6, { lineStyle: { color: COL.gray, width: 1.6, type: [2, 4] } }),
    line(spm530, 0, 0, COL.gold),
    line(spm620, 0, 0, COL.green),
    line(spm330, 0, 0, COL.blue),
    line(spm235, 0, 0, COL.magenta),
    line(spm340, 0, 0, COL.red),
    line(spm345, 0, 0, COL.sky),
    line(spm350, 0, 0, COL.black, 3.6),
    ...bottomMarks(bottomsA, 0, 0, 42, { '620': { anchor: 'end', pos: 'right', dist: 3 } }, true),
    // (b) salinity on the top axis, temperature on the bottom axis
    line(sGreen2, 3, 2, COL.green),
    line(sGreen, 3, 2, COL.green),
    line(sGold, 3, 2, COL.gold),
    line(sMagenta, 3, 2, COL.magenta),
    line(sRed, 3, 2, COL.red),
    line(sBlue, 3, 2, COL.blue),
    line(sBlack, 3, 2, COL.black, 3.6),
    line(tGold, 2, 2, COL.gold),
    line(tGreen, 2, 2, COL.green),
    line(tMagenta, 2, 2, COL.magenta),
    line(tRed, 2, 2, COL.red),
    line(tBlue, 2, 2, COL.blue),
    line(tBlack, 2, 2, COL.black, 3.6),
    // (c)
    line(cb31, 4, 4, COL.green, 2.4),
    line(cb23, 4, 4, COL.blue, 2.4),
    line(cb27, 4, 4, COL.red, 2.4),
    ...bottomMarks(bottomsC, 4, 4, 30, {
      'CB-31': { off: [-27, 0] },
      'CB-27': { pos: 'top', off: [50, 0] },
    }, false),
    // (d)
    line(dCb21, 6, 6, COL.aqua, 2.4),
    line(dCb27, 6, 6, COL.red, 2.4),
    ...bottomMarks(bottomsD, 6, 6, 30, {
      'CB-27': { pos: 'top', dist: 17, off: [41, 0] },
      'CB-21': { pos: 'top', off: [40, 0] },
    }, false),
    // (e)
    line(eSCyan, 9, 8, COL.aqua, 2.4),
    line(eSRed, 9, 8, COL.red, 2.4),
    line(eSBlue, 9, 8, COL.blue, 2.4),
    line(eTCyan, 8, 8, COL.aqua, 2.4),
    line(eTRed, 8, 8, COL.red, 2.4),
    line(eTBlue, 8, 8, COL.blue, 2.4),
  ];

  const graphic = [
    txt('(a)', 238, 163, 42),
    txt('(b)', 1196, 162, 42),
    txt('(c)', 732, 775, 40),
    txt('(d)', 1378, 787, 40),
    txt('(e)', 1906, 777, 40),
    txt('T', 1602, 443, 52),
    txt('S', 1959, 347, 52),
    txt('θ', 1802, 1183, 30),
    txt('S', 1897, 1183, 30),
    txt('Salinity', 1602, 37, 55, { style: { lineHeight: 48 } }),
    txt('Temperature (°C)', 1577, 1603, 55),
    spmTitle(630, 1605, 55),
    txt('Depth (m)', 42, 780, 56, { rotation: Math.PI / 2 }),
    spmTitle(853, 1482, 28),
    spmTitle(1330, 1484, 28),
    txt('θ (°C)', 1847, 1483, 28),
    txt('Salinity', 1843, 678, 30, { style: { lineHeight: 28 } }),
  ];

  return {
    animation: false,
    backgroundColor: '#ffffff',
    grid: [
      { left: 175, top: 110, width: 880, height: 1412 },
      { left: 1142, top: 110, width: 886, height: 1412 },
      { left: 691, top: 739, width: 322, height: 691, show: true, backgroundColor: '#fff', borderWidth: 0 },
      { left: 1248, top: 735, width: 171, height: 698, show: true, backgroundColor: '#fff', borderWidth: 0 },
      { left: 1736, top: 736, width: 215, height: 698, show: true, backgroundColor: '#fff', borderWidth: 0 },
    ],
    xAxis,
    yAxis,
    series,
    graphic,
  };
}

const App: React.FC = () => {
  const chartRef = useRef<HTMLDivElement>(null);

  useEffect(() => {
    if (!chartRef.current) return;
    document.body.style.margin = '0';
    const chart = echarts.init(chartRef.current, null, { renderer: 'svg' });
    chart.setOption(buildOption());
    return () => {
      chart.dispose();
    };
  }, []);

  return <div ref={chartRef} style={{ width: 2067, height: 1657, background: '#fff' }} />;
};

export default App;
